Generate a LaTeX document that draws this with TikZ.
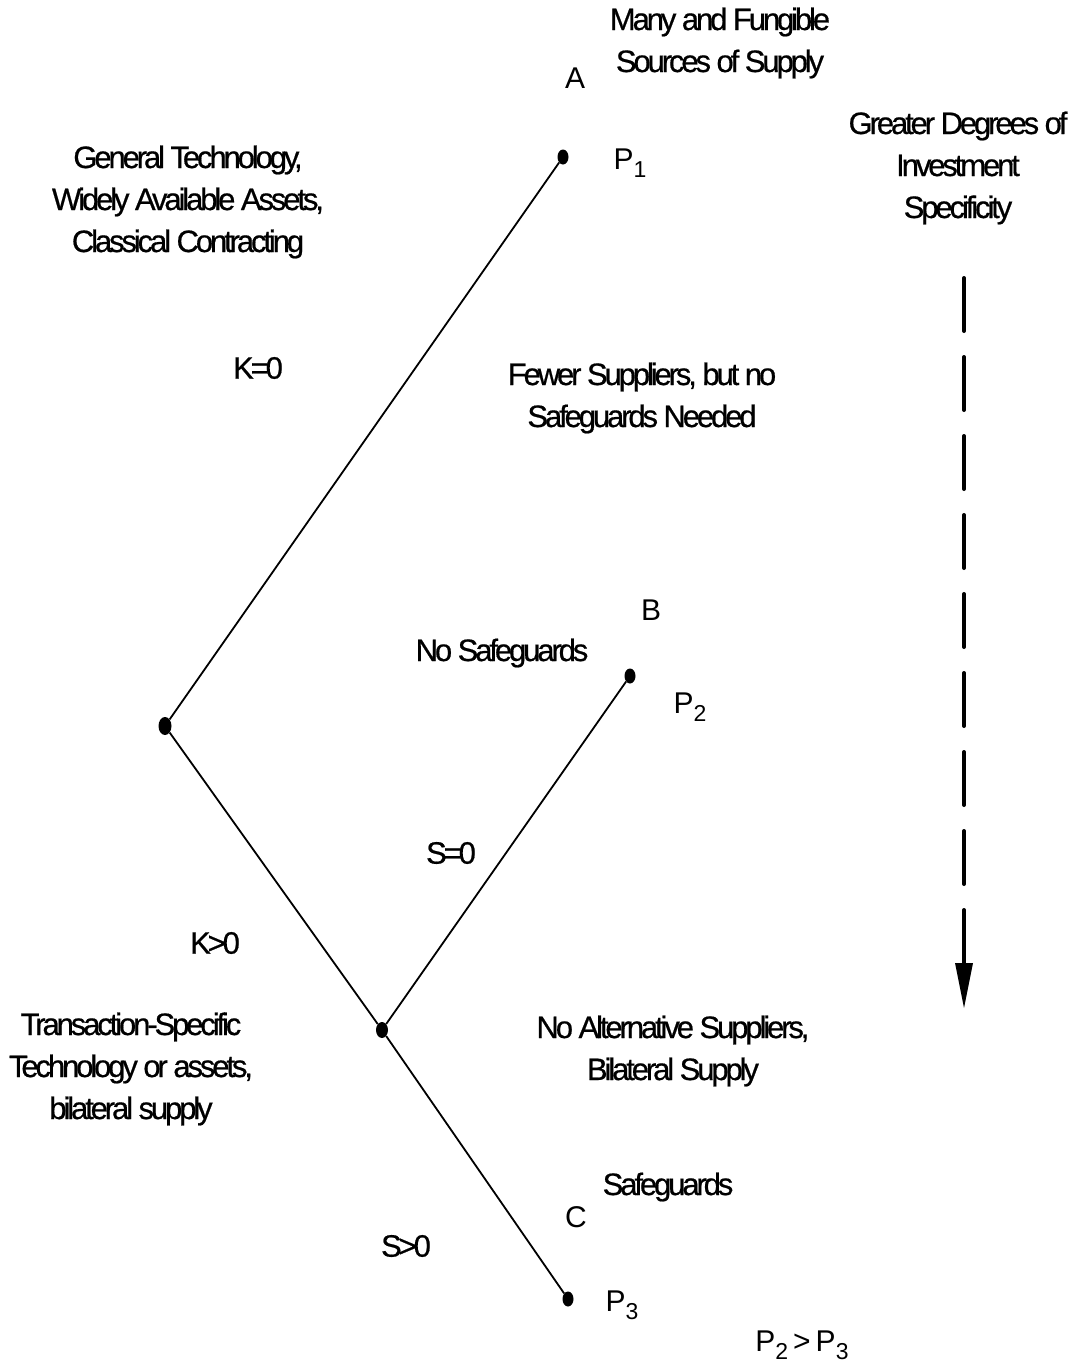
\documentclass[tikz,border=0pt]{standalone}
\usepackage{fontspec}
\usetikzlibrary{shapes.geometric}
\newfontfamily\condfont[LetterSpace=-10,FakeBold=0.6]{Liberation Sans}
\newfontfamily\plainfont{Liberation Sans}
\newcommand\Psub[1]{P\raisebox{-8pt}{\fontsize{23}{23}\selectfont#1}}
\tikzset{
  txt/.style={align=center, inner sep=0pt, font=\condfont\fontsize{31}{42}\selectfont},
  lbl/.style={inner sep=0pt, font=\plainfont\fontsize{30}{34}\selectfont},
  dot/.style={ellipse, fill=black, draw=none, inner sep=0pt, minimum width=11pt, minimum height=15pt},
  bigdot/.style={dot, minimum width=13pt, minimum height=18pt},
  branch/.style={line width=1.8pt},
  scalearrow/.style={line width=4pt, line cap=round, dash pattern=on 53pt off 26pt}
}
\begin{document}
\begin{tikzpicture}[x=1pt,y=-1pt]
\useasboundingbox (0,0) rectangle (1075,1368);

% decision points
\node[bigdot] (root) at (165,726) {};
\node[dot] (p1) at (563,157) {};
\node[dot] (p2) at (630,676) {};
\node[bigdot, minimum width=12pt, minimum height=16pt] (mid) at (382,1030) {};
\node[dot] (p3) at (568,1299) {};

% branches
\draw[branch] (root) -- (p1);
\draw[branch] (root) -- (mid);
\draw[branch] (mid) -- (p2);
\draw[branch] (mid) -- (p3);

% outcome letters and prices
\node[lbl] (la) at (575,78) {A};
\node[lbl] (lb) at (651,610) {B};
\node[lbl] (lc) at (576,1217) {C};
\node[lbl] (pr1) at (630,163) {\Psub{1}};
\node[lbl] (pr2) at (690,707) {\Psub{2}};
\node[lbl] (pr3) at (622,1305) {\Psub{3}};
\node[lbl] (cmp) at (802,1345) {\Psub{2}\,>\,\Psub{3}};

% branch conditions
\node[txt] (k0) at (258,368) {K=0};
\node[txt] (kp) at (215,943) {K>0};
\node[txt] (s0) at (451,853) {S=0};
\node[txt] (sp) at (406,1246) {S>0};

% descriptions
\node[txt] (many) at (720,43) {Many and Fungible\\Sources of Supply};
\node[txt] (gen) at (188,202) {General Technology,\\Widely Available Assets,\\Classical Contracting};
\node[txt] (fewer) at (642,398) {Fewer Suppliers, but no\\Safeguards Needed};
\node[txt] (nosafe) at (502,653) {No Safeguards};
\node[txt] (trans) at (131,1069) {Transaction-Specific\\Technology or assets,\\bilateral supply};
\node[txt] (noalt) at (673,1051) {No Alternative Suppliers,\\Bilateral Supply};
\node[txt] (safe) at (668,1187) {Safeguards};
\node[txt] (greater) at (958,168) {Greater Degrees of\\Investment\\Specificity};

% specificity scale
\coordinate (st) at (964,278);
\coordinate (sh) at (964,963);
\coordinate (tip) at (964,1008);
\draw[scalearrow] (st) -- (sh);
\fill (955,963) -- (973,963) -- (tip) -- cycle;
\end{tikzpicture}
\end{document}
